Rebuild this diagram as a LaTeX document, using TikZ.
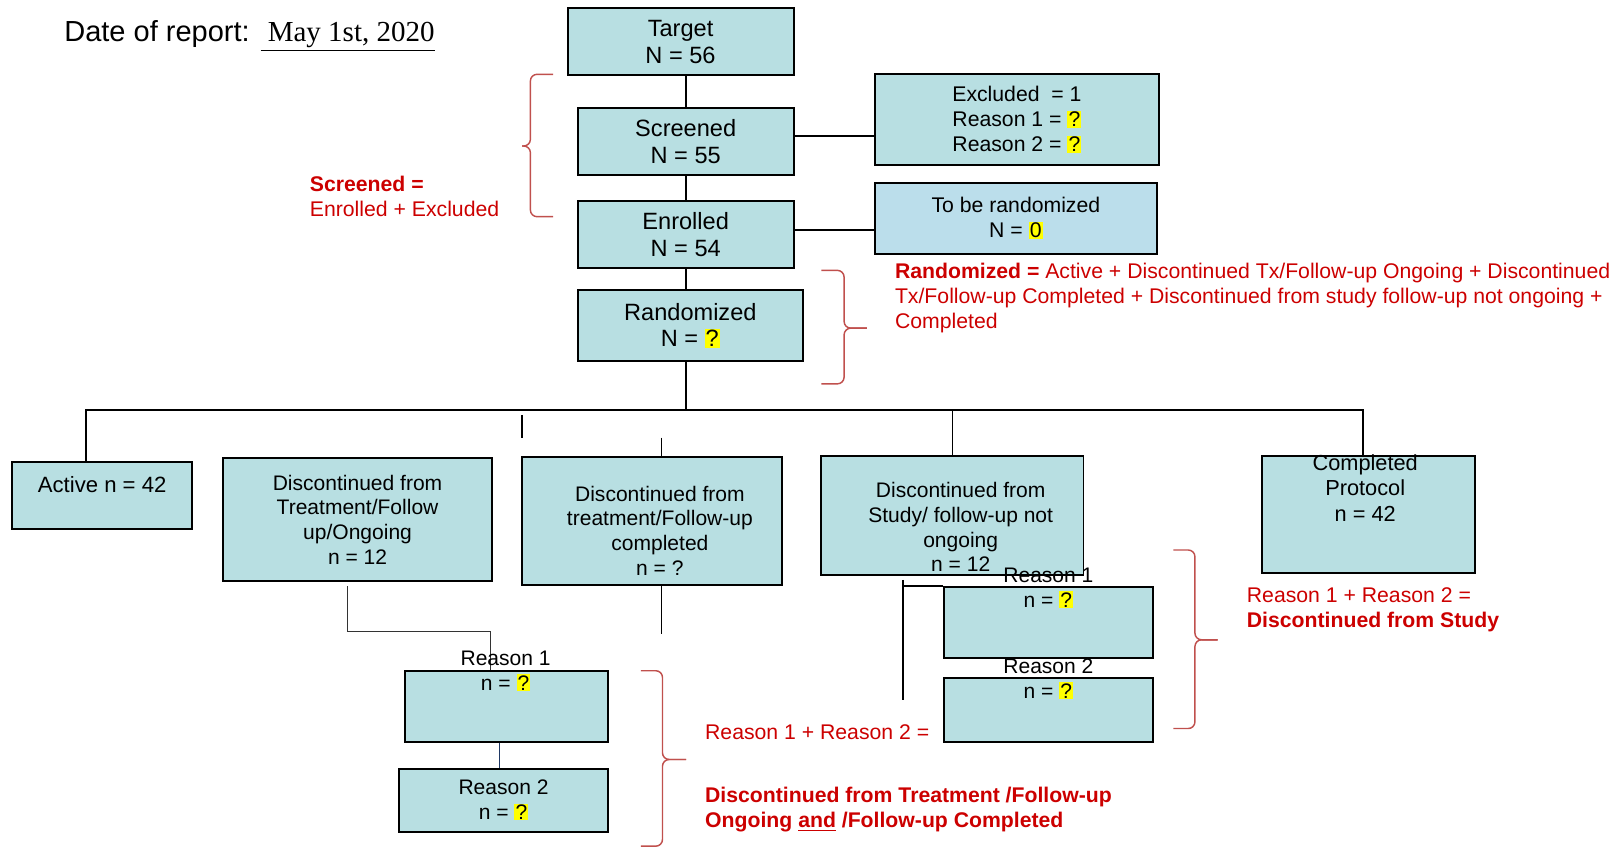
\documentclass[tikz,border=0pt]{standalone}
\usepackage{xcolor}
\usepackage{fontspec}
\setmainfont{Liberation Sans}
\newfontfamily\datefont{Liberation Serif}
\usepackage{tikz}
\usetikzlibrary{positioning}

\definecolor{boxteal}{RGB}{184,223,226}
\definecolor{boxblue}{RGB}{187,222,235}
\definecolor{notered}{RGB}{204,0,0}
\definecolor{bracered}{RGB}{192,80,77}
\definecolor{linknavy}{RGB}{31,56,100}
\definecolor{hlyellow}{RGB}{255,255,0}

\newcommand{\hlt}[1]{{\setlength{\fboxsep}{0.6pt}\colorbox{hlyellow}{#1}}}

\tikzset{
    box/.style={draw=black, line width=1.1pt, fill=boxteal, inner sep=0pt, align=center},
    bigtxt/.style={font=\fontsize{13}{14.8}\selectfont},
    midtxt/.style={font=\fontsize{11.7}{13.7}\selectfont},
    lowtxt/.style={font=\fontsize{11.6}{13.6}\selectfont, align=center, inner sep=0pt},
    note/.style={text=notered, align=left, anchor=west, inner sep=0pt, font=\fontsize{11.7}{13.7}\selectfont},
    link/.style={line width=1pt},
    curly/.style={draw=bracered, line width=0.8pt, rounded corners=0.13cm},
}

\begin{document}
\begin{tikzpicture}
        \useasboundingbox (0,0) rectangle (31.36,16.44);

        % Report date
        \node[anchor=west, inner sep=0pt, font=\fontsize{16}{18}\selectfont] (datelabel) at (1.24,15.75) {Date of report: {\datefont\underline{\ May 1st, 2020}}};

        % Main column
        \node[box, bigtxt, minimum width=4.38cm, minimum height=1.30cm] (target) at (13.19,15.63) {Target\\N = 56};
        \node[box, bigtxt, minimum width=4.18cm, minimum height=1.30cm] (screened) at (13.29,13.69) {Screened\\N = 55};
        \node[box, bigtxt, minimum width=4.18cm, minimum height=1.30cm] (enrolled) at (13.29,11.89) {Enrolled\\N = 54};
        \node[box, bigtxt, minimum width=4.36cm, minimum height=1.38cm] (randomized) at (13.38,10.13) {Randomized\\N = \hlt{?}};

        % Side boxes
        \node[box, midtxt, minimum width=5.50cm, minimum height=1.76cm] (excluded) at (19.71,14.12) {Excluded \ = 1\\Reason 1 = \hlt{?}\\Reason 2 = \hlt{?}};
        \node[box, midtxt, fill=boxblue, minimum width=5.46cm, minimum height=1.38cm] (tobe) at (19.69,12.21) {To be randomized\\N = \hlt{0}};

        \draw[link] (target.south -| screened.north) -- (screened.north);
        \draw[link] (screened.south) -- (enrolled.north);
        \draw[link] (enrolled.south) -- (enrolled.south |- randomized.north);
        \draw[link] ([yshift=0.11cm]screened.east) -- ([yshift=0.11cm]excluded.west |- screened.east);
        \draw[link] ([yshift=0.09cm]enrolled.east) -- ([yshift=0.09cm]tobe.west |- enrolled.east);

        % Outcome row
        \coordinate (busL) at (1.66,8.50);
        \coordinate (busR) at (26.42,8.50);
        \node[box, minimum width=3.48cm, minimum height=1.30cm] (active) at (1.98,6.83) {};
        \node[lowtxt, font=\fontsize{12.2}{14}\selectfont] (activetxt) at (1.98,7.04) {Active n = 42};
        \node[box, lowtxt, minimum width=5.22cm, minimum height=2.38cm] (disctx) at (6.93,6.37) {Discontinued from\\Treatment/Follow\\up/Ongoing\\n = 12};
        \node[box, minimum width=5.04cm, minimum height=2.48cm] (disccomp) at (12.64,6.34) {};
        \node[lowtxt] (disccomptxt) at (12.79,6.16) {Discontinued from\\treatment/Follow-up\\completed\\n = ?};
        \node[box, minimum width=5.08cm, minimum height=2.30cm] (study) at (18.46,6.45) {};
        \node[lowtxt] (studytxt) at (18.62,6.22) {Discontinued from\\Study/ follow-up not\\ongoing\\n = 12};
        \node[box, minimum width=4.12cm, minimum height=2.26cm] (completed) at (26.52,6.47) {};
        \node[lowtxt, font=\fontsize{12}{14}\selectfont] (completedtxt) at (26.46,6.98) {Completed\\Protocol\\n = 42};

        \draw[link] (randomized.south -| screened.north) -- (screened.north |- busL);
        \draw[link] (busL |- active.north) |- (busR) -- (busR |- completed.north);
        \draw[link] (study.north) -- (study.north |- busL);

        % Loose stubs
        \coordinate (stubtop) at (10.12,8.40);
        \coordinate (stubbot) at (10.12,7.96);
        \draw[link] (stubtop) -- (stubbot);
        \coordinate (comptop) at (12.82,7.96);
        \coordinate (compbot) at (12.82,4.16);
        \draw[link] (comptop) -- (comptop |- disccomp.north);
        \draw[link] (compbot |- disccomp.south) -- (compbot);

        % Reasons under treatment discontinuation
        \coordinate (txdrop) at (6.74,5.08);
        \coordinate (txbend) at (9.50,4.20);
        \node[box, minimum width=3.94cm, minimum height=1.38cm] (reasonA) at (9.81,2.75) {};
        \node[box, lowtxt, minimum width=4.04cm, minimum height=1.22cm] (reasonB) at (9.76,0.93) {Reason 2\\n = \hlt{?}};
        \draw[line width=0.6pt, black!80] (txdrop) |- (txbend) -- (txbend |- reasonA.north);
        \draw[line width=0.6pt, linknavy] ([xshift=-0.13cm]reasonA.south) -- ([xshift=-0.13cm]reasonA.south |- reasonB.north);
        \node[lowtxt] (reasonAtxt) at (9.80,3.43) {Reason 1\\n = \hlt{?}};

        % Reasons under study discontinuation
        \coordinate (studydrop) at (17.50,5.20);
        \coordinate (studyend) at (17.50,2.88);
        \node[box, minimum width=4.04cm, minimum height=1.38cm] (reasonC) at (20.32,4.37) {};
        \node[box, minimum width=4.04cm, minimum height=1.24cm] (reasonD) at (20.32,2.68) {};
        \draw[link] (studydrop) -- (studyend);
        \draw[link] (studydrop |- reasonC.north) -- (reasonC.north west);
        \node[lowtxt] (reasonCtxt) at (20.32,5.04) {Reason 1\\n = \hlt{?}};
        \node[lowtxt] (reasonDtxt) at (20.32,3.28) {Reason 2\\n = \hlt{?}};

        % Braces: end x / spine x / tip x / top / tip / bottom
        \foreach \ex/\vx/\tx/\ya/\yb/\yc in {10.72/10.28/10.12/15.00/13.61/12.24, 15.92/16.36/16.80/11.20/10.08/9.00, 12.42/12.84/13.30/3.44/1.72/0.04, 22.74/23.16/23.60/5.78/4.04/2.32}{
            \draw[curly] (\ex,\ya) -- (\vx,\ya) -- (\vx,\yb) -- (\tx,\yb);
            \draw[curly] (\tx,\yb) -- (\vx,\yb) -- (\vx,\yc) -- (\ex,\yc);
        }

        \node[note] (screenednote) at (6.00,12.64) {\textbf{Screened =}\\Enrolled + Excluded};
        \node[note] (randnote) at (17.34,10.66) {\textbf{Randomized =} Active + Discontinued Tx/Follow-up Ongoing + Discontinued\\Tx/Follow-up Completed + Discontinued from study follow-up not ongoing +\\Completed};
        \node[note] (sumnote) at (13.66,2.24) {Reason 1 + Reason 2 =};
        \node[note, font=\fontsize{11.7}{13.7}\selectfont\bfseries] (txnote) at (13.66,0.75) {Discontinued from Treatment /Follow-up\\Ongoing \underline{and} /Follow-up Completed};
        \node[note] (studynote) at (24.16,4.62) {Reason 1 + Reason 2 =\\\textbf{Discontinued from Study}};
    \end{tikzpicture}
\end{document}
